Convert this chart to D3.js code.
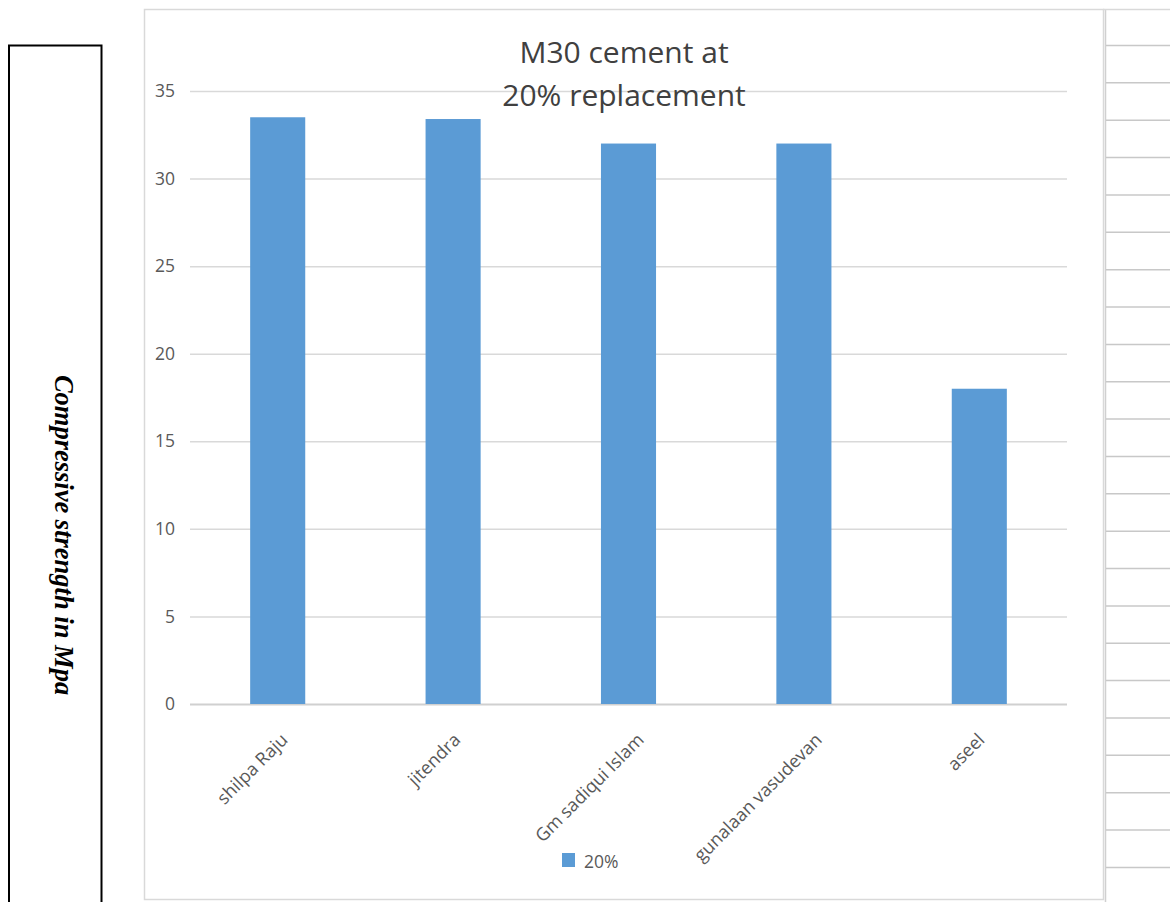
<!DOCTYPE html>
<html>
<head>
<meta charset="utf-8">
<script src="https://cdn.jsdelivr.net/npm/d3@7"></script>
<style>
  body { margin: 0; background: #fff; }
  svg { display: block; }
</style>
</head>
<body>
<svg id="chart" width="1170" height="902"></svg>
<script>
// Compressive strength of M30 concrete at 20% cement replacement
const categories = ["shilpa Raju", "jitendra", "Gm sadiqui Islam", "gunalaan vasudevan", "aseel"];
const values = [33.5, 33.4, 32, 32, 18];
const yTicks = [0, 5, 10, 15, 20, 25, 30, 35];
const seriesName = "20%";
const titleLines = ["M30 cement at", "20% replacement"];
const yAxisLabel = "Compressive strength in Mpa";
const tableRowCount = 23;

const svg = d3.select("#chart");
const W = 1170, H = 902;
const plot = { left: 190, right: 1067, top: 91, bottom: 704 };
const barColor = "#5b9bd5";
const uiFont = "'Open Sans', 'Noto Sans', sans-serif";

const x = d3.scaleBand()
  .domain(categories)
  .range([plot.left, plot.right])
  .paddingInner(0.686)
  .paddingOuter(0.343);

const y = d3.scaleLinear()
  .domain([0, 35])
  .range([plot.bottom, plot.top]);

// Side box holding the vertical axis caption
svg.append("rect")
  .attr("x", 9).attr("y", 45.5)
  .attr("width", 92.5).attr("height", H)
  .attr("fill", "none").attr("stroke", "#000").attr("stroke-width", 2);

svg.append("text")
  .attr("transform", `translate(55,535) rotate(90)`)
  .attr("text-anchor", "middle")
  .attr("font-family", "'Liberation Serif', 'Times New Roman', serif")
  .attr("font-weight", "bold").attr("font-style", "italic")
  .attr("font-size", 26.5).attr("fill", "#000")
  .text(yAxisLabel);

// Ruled table to the right of the chart
svg.append("line")
  .attr("x1", 1105.5).attr("x2", 1105.5).attr("y1", 9).attr("y2", H)
  .attr("stroke", "#d0d0d0").attr("stroke-width", 1.5);
svg.append("g").selectAll("line")
  .data(d3.range(tableRowCount))
  .join("line")
  .attr("x1", 1106).attr("x2", W)
  .attr("y1", i => 45.5 + i * 37.36).attr("y2", i => 45.5 + i * 37.36)
  .attr("stroke", "#c8c8c8").attr("stroke-width", 1.5);

// Chart area frame
svg.append("rect")
  .attr("x", 144.5).attr("y", 9.5)
  .attr("width", 959).attr("height", 890)
  .attr("fill", "#fff").attr("stroke", "#d9d9d9").attr("stroke-width", 1.5);
svg.append("line")
  .attr("x1", 1103).attr("x2", W).attr("y1", 9.5).attr("y2", 9.5)
  .attr("stroke", "#d9d9d9").attr("stroke-width", 1.5);

// Value axis with gridlines
const yAxis = svg.append("g")
  .attr("transform", `translate(${plot.left},0)`)
  .call(d3.axisLeft(y).tickValues(yTicks).tickSize(-(plot.right - plot.left)).tickPadding(15));
yAxis.select(".domain").remove();
yAxis.selectAll(".tick line")
  .attr("stroke", d => d === 0 ? "#d0d0d0" : "#d9d9d9")
  .attr("stroke-width", d => d === 0 ? 2 : 1.5);
yAxis.selectAll(".tick text")
  .attr("font-family", uiFont).attr("font-size", 17.5).attr("fill", "#595959");

// Bars
svg.append("g").selectAll("rect")
  .data(categories)
  .join("rect")
  .attr("x", d => x(d))
  .attr("width", x.bandwidth())
  .attr("y", (d, i) => y(values[i]))
  .attr("height", (d, i) => y(0) - y(values[i]))
  .attr("fill", barColor);

// Category labels, rotated
svg.append("g").selectAll("text")
  .data(categories)
  .join("text")
  .attr("text-anchor", "end")
  .attr("font-family", uiFont).attr("font-size", 18).attr("fill", "#595959")
  .text(d => d)
  .attr("transform", function (d) {
    const len = this.getComputedTextLength();
    const cx = x(d) + x.bandwidth() / 2 + 2 + 0.1 * len;
    return `translate(${cx},741) rotate(-45)`;
  });

// Title
svg.append("g").selectAll("text")
  .data(titleLines)
  .join("text")
  .attr("x", 624)
  .attr("y", (d, i) => 63 + i * 43)
  .attr("text-anchor", "middle")
  .attr("font-family", uiFont).attr("font-size", 30).attr("fill", "#404040")
  .text(d => d);

// Legend
const legend = svg.append("g");
legend.append("rect")
  .attr("x", 562).attr("y", 853).attr("width", 13).attr("height", 14)
  .attr("fill", barColor);
legend.append("text")
  .attr("x", 584).attr("y", 868)
  .attr("font-family", uiFont).attr("font-size", 17.5).attr("fill", "#595959")
  .text(seriesName);
</script>
</body>
</html>
